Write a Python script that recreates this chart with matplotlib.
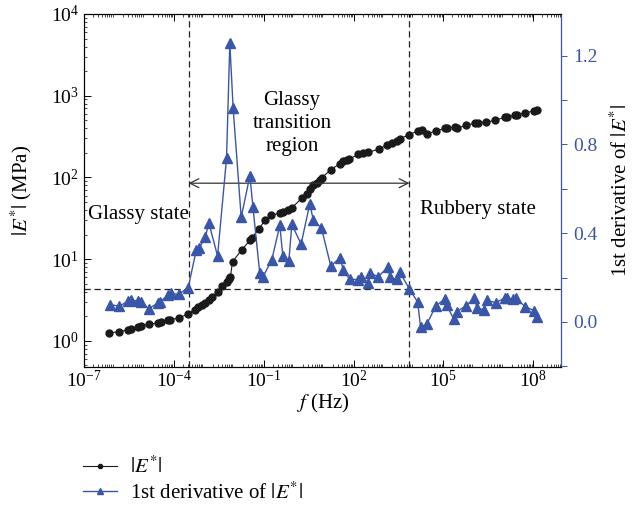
import numpy as np
import matplotlib
matplotlib.use("Agg")
import matplotlib.pyplot as plt
from matplotlib.lines import Line2D

plt.rcParams["font.family"] = ["Liberation Serif", "DejaVu Serif"]
plt.rcParams["mathtext.fontset"] = "stix"

# |E*| master curve (log10 of frequency in Hz, modulus in MPa)
logf_mod = [-6.15, -5.82, -5.52, -5.43, -5.18, -5.11, -4.82, -4.52, -4.43, -4.20,
            -4.13, -3.82, -3.54, -3.29, -3.18, -3.07, -2.95, -2.84, -2.74, -2.54,
            -2.40, -2.24, -2.16, -2.11, -2.04, -1.74, -1.44, -1.39, -1.15, -0.96,
            -0.74, -0.46, -0.37, -0.18, -0.07, 0.27, 0.44, 0.55, 0.66, 0.77,
            0.88, 0.94, 1.24, 1.55, 1.66, 1.78, 1.86, 2.16, 2.33, 2.49,
            2.86, 3.13, 3.27, 3.44, 3.55, 3.86, 4.17, 4.28, 4.44, 4.74,
            5.05, 5.13, 5.39, 5.46, 5.74, 6.06, 6.17, 6.42, 6.74, 7.06,
            7.13, 7.39, 7.46, 7.74, 8.04, 8.12]
modulus = [1.25, 1.30, 1.36, 1.38, 1.48, 1.54, 1.60, 1.66, 1.69, 1.78,
           1.80, 1.92, 2.12, 2.42, 2.60, 2.75, 2.93, 3.14, 3.47, 3.96,
           4.75, 5.32, 5.70, 6.12, 9.32, 12.9, 17.3, 18.3, 23.7, 29.9,
           34.4, 36.7, 37.9, 39.6, 42.2, 55.5, 63.3, 72.4, 79.9, 84.5,
           93.2, 99.1, 124, 148, 158, 163, 168, 191, 198, 202,
           224, 250, 262, 283, 297, 334, 374, 382, 341, 369,
           399, 404, 410, 398, 433, 462, 469, 472, 503, 544,
           554, 578, 587, 615, 656, 666]

# first derivative of |E*|
logf_der = [-6.13, -5.82, -5.52, -5.43, -5.19, -5.10, -4.84, -4.52, -4.45, -4.19,
            -4.11, -3.84, -3.52, -3.25, -3.15, -2.95, -2.83, -2.54, -2.24, -2.13,
            -2.02, -1.75, -1.46, -1.36, -1.13, -1.02, -0.73, -0.46, -0.36, -0.16,
            -0.06, 0.25, 0.54, 0.66, 0.93, 1.24, 1.55, 1.66, 1.87, 2.16,
            2.24, 2.49, 2.55, 2.83, 3.14, 3.22, 3.44, 3.55, 3.86, 4.14,
            4.24, 4.45, 4.75, 5.04, 5.11, 5.35, 5.44, 5.75, 6.04, 6.12,
            6.35, 6.45, 6.75, 7.05, 7.12, 7.34, 7.42, 7.74, 8.04, 8.13]
deriv = [0.078, 0.071, 0.094, 0.097, 0.095, 0.092, 0.060, 0.086, 0.091, 0.122,
         0.129, 0.124, 0.155, 0.324, 0.333, 0.382, 0.446, 0.297, 0.737, 1.255,
         0.963, 0.471, 0.659, 0.519, 0.219, 0.204, 0.279, 0.435, 0.296, 0.273,
         0.439, 0.351, 0.532, 0.457, 0.423, 0.252, 0.289, 0.234, 0.192, 0.191,
         0.201, 0.177, 0.219, 0.204, 0.246, 0.201, 0.192, 0.223, 0.150, 0.090,
         -0.023, -0.009, 0.072, 0.103, 0.077, 0.012, 0.046, 0.072, 0.108, 0.063,
         0.054, 0.097, 0.087, 0.108, 0.107, 0.103, 0.108, 0.068, 0.051, 0.021]

f_glassy_end = 3.1e-4
f_rubbery_start = 7.4e3
deriv_threshold = 0.15
arrow_level = 85

blue = "#3a56a8"
fs = 15

fig = plt.figure(figsize=(6.33, 5.07), dpi=100)
ax = fig.add_axes([0.1327, 0.2761, 0.7536, 0.6963])
ax2 = ax.twinx()

f_mod = 10 ** np.array(logf_mod)
f_der = 10 ** np.array(logf_der)

ax.plot(f_mod, modulus, color="#1a1a1a", lw=0.8, marker="o", ms=5, zorder=3)
ax2.plot(f_der, deriv, color=blue, lw=1.0, marker="^", ms=6.5, zorder=3)

ax.set_xscale("log")
ax.set_yscale("log")
ax.set_xlim(1e-7, 10 ** 8.93)
ax.set_ylim(10 ** -0.32, 1e4)
ax2.set_ylim(-0.203, 1.387)
ax2.set_xlim(ax.get_xlim())

ax.set_xticks([1e-7, 1e-4, 1e-1, 1e2, 1e5, 1e8])
ax.xaxis.set_minor_locator(matplotlib.ticker.LogLocator(base=10, subs=np.arange(2, 10), numticks=100))
ax.set_yticks([1, 10, 100, 1000, 10000])
ax.yaxis.set_minor_locator(matplotlib.ticker.LogLocator(base=10, subs=np.arange(2, 10), numticks=100))
ax.xaxis.set_minor_formatter(matplotlib.ticker.NullFormatter())
ax.yaxis.set_minor_formatter(matplotlib.ticker.NullFormatter())

ax.tick_params(which="both", direction="in", top=True, labelsize=14)
ax.tick_params(which="major", length=5, width=0.7)
ax.tick_params(which="minor", length=2.5, width=0.5)
ax.tick_params(axis="x", pad=2)

ax2.set_yticks([0.0, 0.4, 0.8, 1.2])
ax2.set_yticks([-0.2, 0.2, 0.6, 1.0], minor=True)
ax2.set_yticklabels(["0.0", "0.4", "0.8", "1.2"])
ax2.tick_params(axis="y", which="both", direction="out", colors=blue, labelsize=14,
                length=4, width=0.7, pad=5)
ax2.spines["right"].set_color(blue)
for s in ["left", "top", "bottom"]:
    ax.spines[s].set_linewidth(0.8)
ax2.spines["right"].set_linewidth(0.8)

ax.set_xlabel(r"$f$ (Hz)", fontsize=fs, labelpad=1)
ax.set_ylabel(r"$|E^{*}|$ (MPa)", fontsize=fs, labelpad=12)
ax2.set_ylabel(r"1st derivative of $|E^{*}|$", fontsize=fs, labelpad=9)

# region boundaries
dash = (0, (5, 3))
for fx in [f_glassy_end, f_rubbery_start]:
    ax.axvline(fx, color="#222222", lw=0.9, ls=dash, zorder=1)
ax2.axhline(deriv_threshold, color="#222222", lw=0.9, ls=dash, zorder=1)

ax.annotate("", xy=(f_glassy_end, arrow_level), xytext=(f_rubbery_start, arrow_level),
            arrowprops=dict(arrowstyle="<->", color="#333333", lw=0.9,
                            shrinkA=0, shrinkB=0, mutation_scale=16))

ax.text(10 ** -0.05, 10 ** 2.66, "Glassy\ntransition\nregion", ha="center", va="center",
        fontsize=fs, linespacing=1.3)
ax.text(10 ** -5.18, 10 ** 1.55, "Glassy state", ha="center", va="center", fontsize=fs)
ax.text(10 ** 6.17, 10 ** 1.61, "Rubbery state", ha="center", va="center", fontsize=fs)

handles = [Line2D([], [], color="#1a1a1a", lw=0.8, marker="o", ms=3),
           Line2D([], [], color=blue, lw=1.0, marker="^", ms=4)]
fig.legend(handles, [r"$|E^{*}|$", r"1st derivative of $|E^{*}|$"],
           loc="upper left", bbox_to_anchor=(0.131, 0.0995), frameon=False,
           fontsize=fs, handlelength=1.63, handletextpad=0.62, labelspacing=0.2,
           borderpad=0, borderaxespad=0)

fig.savefig("out.png", dpi=100)
